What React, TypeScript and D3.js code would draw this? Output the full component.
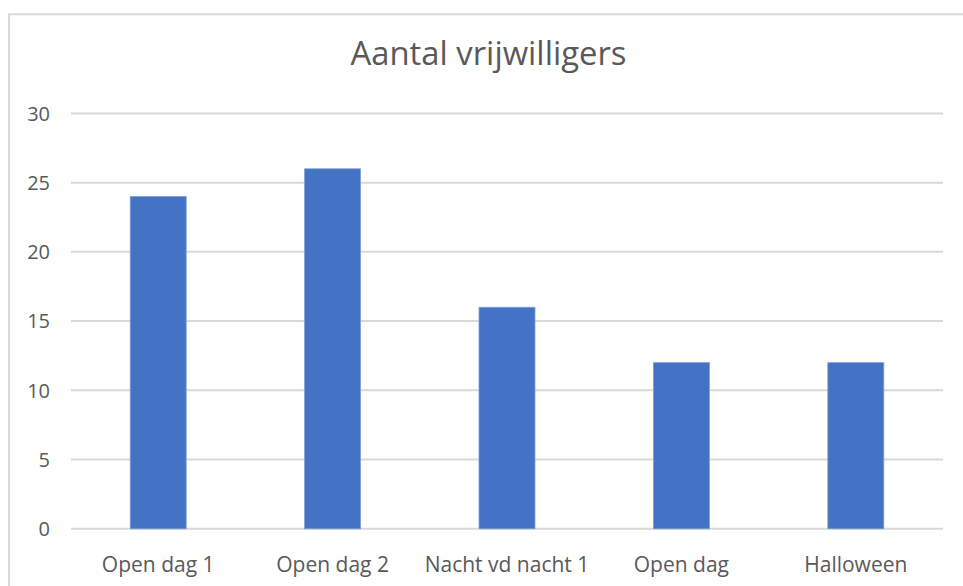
import React from "react";
import * as d3 from "d3";

const categories = ["Open dag 1", "Open dag 2", "Nacht vd nacht 1", "Open dag", "Halloween"];
const values = [24, 26, 16, 12, 12];
const yTicks = [0, 5, 10, 15, 20, 25, 30];
const title = "Aantal vrijwilligers";

const W = 963;
const H = 586;
const FONT = "'Open Sans', 'Noto Sans', sans-serif";
const TEXT = "#595959";
const GRID = "#d9d9d9";
const BAR = "#4472C4";

export default function App() {
  const x = d3.scaleBand<string>().domain(categories).range([71, 943]).paddingInner(0.679).paddingOuter(0.3395);
  const y = d3.scaleLinear().domain([0, 30]).range([528.8, 113.4]);
  return (
    <svg width={W} height={H} style={{ position: "absolute", left: 0, top: 0, background: "#fff" }}>
      <rect x={9} y={14.3} width={1200} height={1200} fill="#fff" stroke={GRID} strokeWidth={2} />
      <text x={488.5} y={65} textAnchor="middle" fontFamily={FONT} fontSize={32.8} fill={TEXT}>{title}</text>
      {yTicks.map((t) => (
        <g key={t}>
          <line x1={71} x2={943} y1={y(t)} y2={y(t)} stroke={GRID} strokeWidth={2} />
          <text x={50} y={y(t)} dy="0.36em" textAnchor="end" fontFamily={FONT} fontSize={20} fill={TEXT}>{t}</text>
        </g>
      ))}
      {categories.map((c, i) => (
        <rect key={c} x={x(c)} y={y(values[i])} width={x.bandwidth()} height={y(0) - y(values[i])} fill={BAR} stroke="#7f9fd8" strokeWidth={0.8} />
      ))}
      {categories.map((c) => (
        <text key={c} x={(x(c) as number) + x.bandwidth() / 2} y={572} textAnchor="middle" fontFamily={FONT} fontSize={21} fill={TEXT}>{c}</text>
      ))}
    </svg>
  );
}
